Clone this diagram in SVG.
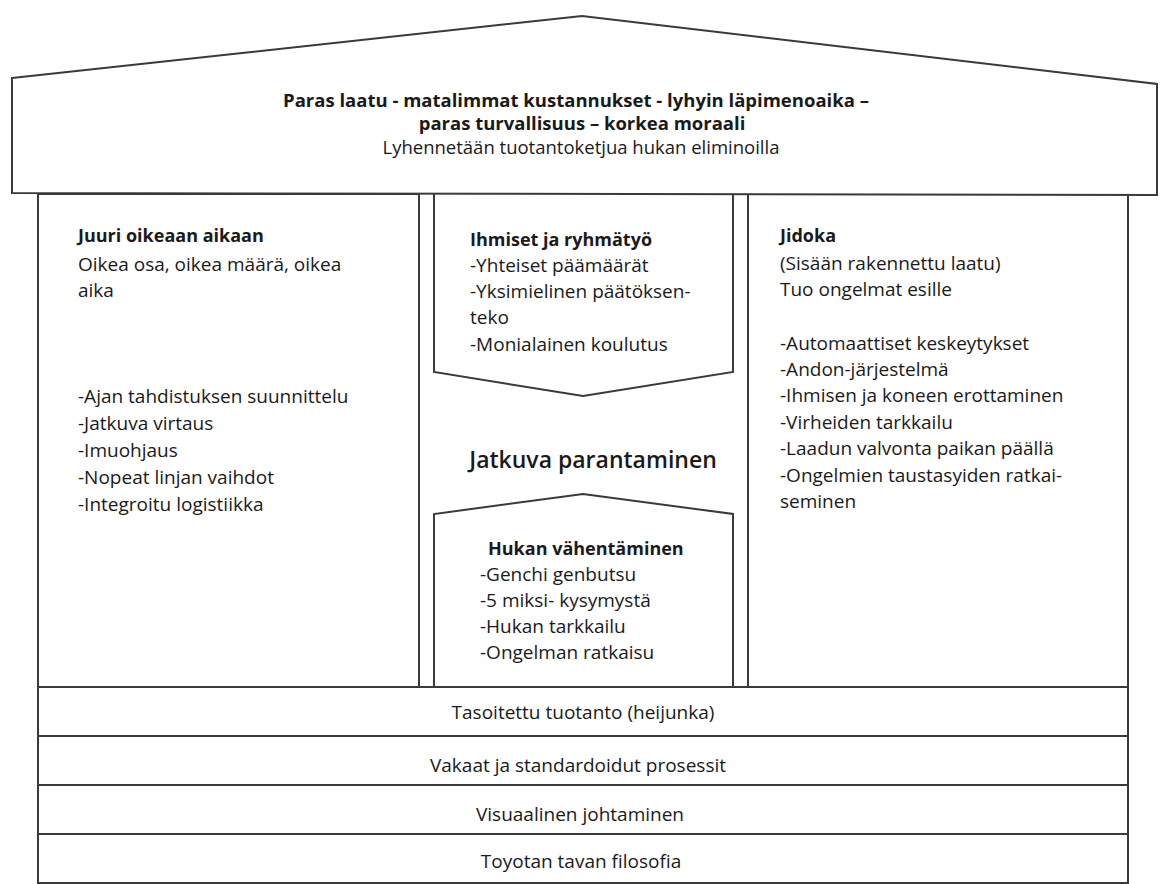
<svg xmlns="http://www.w3.org/2000/svg" width="1162" height="884" viewBox="0 0 1162 884">
<style>
.ln{fill:#fff;stroke:#3a3a3a;stroke-width:2;stroke-linejoin:miter}
.t{font-family:"Open Sans","Noto Sans","Liberation Sans",sans-serif;font-size:19px;fill:#1a1a1a}
.b{font-weight:bold;font-size:18px}
.r{font-size:18.5px}
.c{text-anchor:middle}
.big{font-size:23px;font-weight:600}
</style>
<rect width="1162" height="884" fill="#fff"/>
<g id="jit-pillar">
<rect class="ln" x="38" y="194" width="381" height="493"/>
<text class="t b" x="78" y="242">Juuri oikeaan aikaan</text>
<text class="t" x="78" y="271">Oikea osa, oikea määrä, oikea</text>
<text class="t" x="78" y="297">aika</text>
<text class="t" x="78" y="403">-Ajan tahdistuksen suunnittelu</text>
<text class="t" x="78" y="430">-Jatkuva virtaus</text>
<text class="t" x="78" y="457">-Imuohjaus</text>
<text class="t" x="78" y="484">-Nopeat linjan vaihdot</text>
<text class="t" x="78" y="511">-Integroitu logistiikka</text>
</g>
<g id="jidoka-pillar">
<rect class="ln" x="748" y="194" width="380" height="493"/>
<text class="t b" x="780" y="242">Jidoka</text>
<text class="t" x="780" y="270">(Sisään rakennettu laatu)</text>
<text class="t" x="780" y="296">Tuo ongelmat esille</text>
<text class="t" x="780" y="350">-Automaattiset keskeytykset</text>
<text class="t" x="780" y="376">-Andon-järjestelmä</text>
<text class="t" x="780" y="402">-Ihmisen ja koneen erottaminen</text>
<text class="t" x="780" y="429">-Virheiden tarkkailu</text>
<text class="t" x="780" y="455">-Laadun valvonta paikan päällä</text>
<text class="t" x="780" y="482">-Ongelmien taustasyiden ratkai-</text>
<text class="t" x="780" y="508">seminen</text>
</g>
<g id="people">
<path class="ln" d="M434,194 V372 L583,396 L733,372 V194"/>
<text class="t b" x="470" y="246">Ihmiset ja ryhmätyö</text>
<text class="t" x="470" y="272">-Yhteiset päämäärät</text>
<text class="t" x="470" y="298">-Yksimielinen päätöksen-</text>
<text class="t" x="470" y="324">teko</text>
<text class="t" x="470" y="351">-Monialainen koulutus</text>
</g>
<g id="kaizen">
<text class="t big c" x="593" y="468">Jatkuva parantaminen</text>
</g>
<g id="waste">
<path class="ln" d="M434,687 V514 L583,494 L733,514 V687"/>
<text class="t b" x="488" y="555">Hukan vähentäminen</text>
<text class="t" x="480" y="581">-Genchi genbutsu</text>
<text class="t" x="480" y="607">-5 miksi- kysymystä</text>
<text class="t" x="480" y="633">-Hukan tarkkailu</text>
<text class="t" x="480" y="659">-Ongelman ratkaisu</text>
</g>
<g id="roof">
<polygon class="ln" points="12,78 582,16 1157,84 1157,195 12,193"/>
<text class="t b r c" x="576" y="107">Paras laatu - matalimmat kustannukset - lyhyin läpimenoaika –</text>
<text class="t b r c" x="582" y="130">paras turvallisuus – korkea moraali</text>
<text class="t r c" x="581" y="154">Lyhennetään tuotantoketjua hukan eliminoilla</text>
</g>
<g id="heijunka">
<rect class="ln" x="38" y="687" width="1090" height="49"/>
<text class="t c" x="583" y="719">Tasoitettu tuotanto (heijunka)</text>
</g>
<g id="standard">
<rect class="ln" x="38" y="736" width="1090" height="49"/>
<text class="t c" x="578" y="772">Vakaat ja standardoidut prosessit</text>
</g>
<g id="visual">
<rect class="ln" x="38" y="785" width="1090" height="49"/>
<text class="t c" x="580" y="821">Visuaalinen johtaminen</text>
</g>
<g id="philosophy">
<rect class="ln" x="38" y="834" width="1090" height="49"/>
<text class="t c" x="581" y="868">Toyotan tavan filosofia</text>
</g>
</svg>
